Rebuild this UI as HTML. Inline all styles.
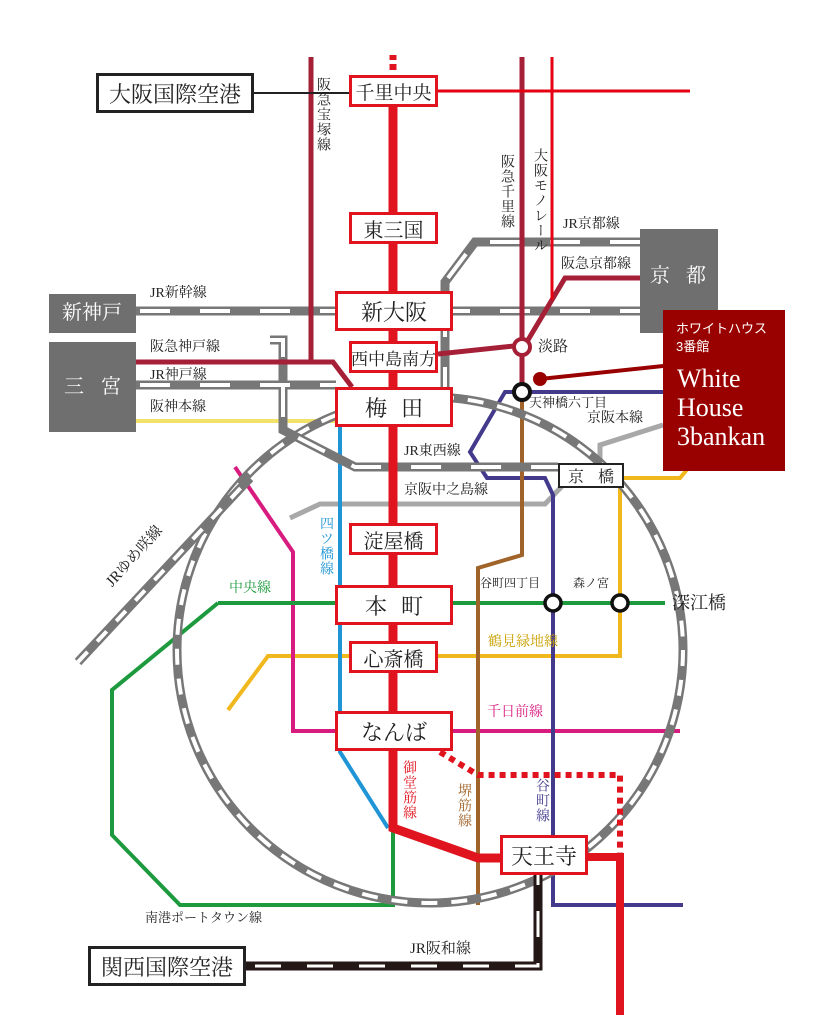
<!DOCTYPE html>
<html><head><meta charset="utf-8"><style>
body{margin:0;background:#fff}
#w{position:relative;width:829px;height:1018px;overflow:hidden;font-family:"Liberation Serif","Noto Serif CJK JP","Noto Serif CJK SC",serif;color:#222}
.t{position:absolute;white-space:nowrap;line-height:1}
.v{position:absolute;writing-mode:vertical-rl;line-height:1;font-size:14px;letter-spacing:1px;white-space:nowrap}
.b{position:absolute;box-sizing:border-box;background:#fff;border:3px solid #e0141e;display:flex;align-items:center;justify-content:center;white-space:nowrap}
.k{border:3px solid #222}
.g{position:absolute;background:#6f6f6f;color:#fff;white-space:nowrap}
.g span{position:absolute;line-height:1}
</style></head><body><div id="w">
<svg width="829" height="1018" style="position:absolute;left:0;top:0">
<g fill="none" stroke-linejoin="miter">
<polyline points="290,518 320,504 545,504 568,480" stroke="#a8a8a8" stroke-width="5"/>
<polyline points="600,470 600,445 663,425" stroke="#a8a8a8" stroke-width="5"/>
<polyline points="228,710 268,656 620,656 620,478 680,478 690,466" stroke="#f0b81c" stroke-width="4"/>
<line x1="136" y1="421" x2="336" y2="421" stroke="#f3e26a" stroke-width="4"/>
<polyline points="235,467 293,552 293,731 680,731" stroke="#d81b7f" stroke-width="4"/>
<polyline points="340,427 340,752 388,828" stroke="#1f95d6" stroke-width="4"/>
<polyline points="218,603 665,603" stroke="#1e9a3e" stroke-width="4"/>
<polyline points="218,603 112,690 112,835 180,905 393,905 393,828" stroke="#1e9a3e" stroke-width="4"/>
<polyline points="663,392 505,392 470,452 487,478 545,478 553,495 553,905 683,905" stroke="#433a8c" stroke-width="4"/>
<polyline points="522,392 522,555 478,568 478,905" stroke="#a0642a" stroke-width="4"/>
<circle cx="430" cy="650" r="253" stroke="#777" stroke-width="9"/>
<circle cx="430" cy="650" r="253" stroke="#fff" stroke-width="4" stroke-dasharray="16 14"/>
<line x1="78" y1="662" x2="250" y2="478" stroke="#777" stroke-width="9"/>
<line x1="78" y1="662" x2="250" y2="478" stroke="#fff" stroke-width="4" stroke-dasharray="14 14"/>
<g stroke="#777" stroke-width="9">
<polyline points="136,311 640,311"/>
<polyline points="136,385 336,385"/>
<polyline points="640,242 475,242 445,282 445,395"/>
<polyline points="270,340 283,340 283,430 355,467 558,467"/>
</g>
<g stroke="#fff" stroke-width="4" stroke-dasharray="30 30">
<polyline points="140,311 640,311"/>
<polyline points="140,385 336,385"/>
<polyline points="640,242 475,242 445,282 445,395"/>
<polyline points="270,340 283,340 283,430 355,467 558,467"/>
</g>
<g stroke="#a51f36" stroke-width="5">
<polyline points="311,57 311,362"/>
<polyline points="136,362 333,362 352,387"/>
<polyline points="438,354 514,346"/>
<polyline points="522,57 522,392"/>
<polyline points="528,340 565,278 640,278"/>
</g>
<line x1="552" y1="57" x2="552" y2="300" stroke="#e60012" stroke-width="3"/>
<line x1="438" y1="91" x2="690" y2="91" stroke="#e60012" stroke-width="3"/>
<line x1="254" y1="93" x2="349" y2="93" stroke="#222" stroke-width="2"/>
<line x1="393" y1="55" x2="393" y2="60" stroke="#e0141e" stroke-width="7"/>
<line x1="393" y1="64" x2="393" y2="70" stroke="#e0141e" stroke-width="7"/>
<polyline points="393,75 393,828 478,858 500,858" stroke="#e0141e" stroke-width="9"/>
<polyline points="440,752 478,775 620,775 620,855" stroke="#e0141e" stroke-width="6" stroke-dasharray="6 5"/>
<polyline points="588,857 620,857 620,1015" stroke="#e0141e" stroke-width="8"/>
<polyline points="245,966 538,966 538,875" stroke="#231815" stroke-width="9"/>
<polyline points="255,966 538,966 538,875" stroke="#fff" stroke-width="3" stroke-dasharray="26 26"/>
<polygon points="540,377 663,364 663,368 540,381" fill="#990000"/>
<circle cx="540" cy="379" r="7" fill="#990000"/>
<circle cx="522" cy="347" r="8" fill="#fff" stroke="#a51f36" stroke-width="4"/>
<circle cx="522" cy="392" r="8" fill="#fff" stroke="#111" stroke-width="4"/>
<circle cx="553" cy="603" r="8" fill="#fff" stroke="#111" stroke-width="3.5"/>
<circle cx="620" cy="603" r="8" fill="#fff" stroke="#111" stroke-width="3.5"/>
</g>
</svg>
<div class="b k" style="left:96px;top:73px;width:158px;height:40px;font-size:22px">大阪国際空港</div>
<div class="b k" style="left:88px;top:946px;width:158px;height:40px;font-size:22px">関西国際空港</div>
<div class="b k" style="left:558px;top:463px;width:66px;height:25px;font-size:16px;border-width:2px;justify-content:space-between;padding:0 8px">京<span>橋</span></div>
<div class="g" style="left:49px;top:294px;width:87px;height:39px"><span style="left:13px;top:9px;font-size:20px">新神戸</span></div>
<div class="g" style="left:49px;top:342px;width:87px;height:90px"><span style="left:15px;top:35px;font-size:20px">三</span><span style="left:52px;top:35px;font-size:20px">宮</span></div>
<div class="g" style="left:640px;top:229px;width:78px;height:104px"><span style="left:10px;top:37px;font-size:20px">京</span><span style="left:46px;top:37px;font-size:20px">都</span></div>
<div style="position:absolute;left:663px;top:310px;width:122px;height:161px;background:#990000;color:#fff">
<div class="t" style="left:13px;top:12px;font-size:13px;font-family:'Liberation Sans','Noto Sans CJK JP',sans-serif">ホワイトハウス</div>
<div class="t" style="left:13px;top:30px;font-size:13px;font-family:'Liberation Sans','Noto Sans CJK JP',sans-serif">3番館</div>
<div class="t" style="left:14px;top:56px;font-size:26px">White</div>
<div class="t" style="left:14px;top:85px;font-size:26px">House</div>
<div class="t" style="left:14px;top:114px;font-size:26px">3bankan</div>
</div>
<div class="b" style="left:349px;top:75px;width:89px;height:32px;font-size:19px">千里中央</div>
<div class="b" style="left:349px;top:212px;width:89px;height:32px;font-size:20px">東三国</div>
<div class="b" style="left:335px;top:291px;width:118px;height:40px;font-size:22px">新大阪</div>
<div class="b" style="left:349px;top:341px;width:89px;height:32px;font-size:17px">西中島南方</div>
<div class="b" style="left:335px;top:387px;width:118px;height:40px;font-size:22px;letter-spacing:14px;padding-left:14px">梅田</div>
<div class="b" style="left:349px;top:523px;width:89px;height:32px;font-size:20px">淀屋橋</div>
<div class="b" style="left:335px;top:585px;width:118px;height:40px;font-size:22px;letter-spacing:14px;padding-left:14px">本町</div>
<div class="b" style="left:349px;top:641px;width:89px;height:32px;font-size:20px">心斎橋</div>
<div class="b" style="left:335px;top:711px;width:118px;height:40px;font-size:22px">なんば</div>
<div class="b" style="left:500px;top:835px;width:88px;height:40px;font-size:22px">天王寺</div>
<div class="v" style="left:315px;top:77px">阪急宝塚線</div>
<div class="v" style="left:499px;top:154px">阪急千里線</div>
<div class="v" style="left:532px;top:148px">大阪モノレール</div>
<div class="v" style="left:318px;top:516px;color:#1f95d6">四ツ橋線</div>
<div class="v" style="left:401px;top:760px;color:#e0141e">御堂筋線</div>
<div class="v" style="left:456px;top:783px;color:#a0642a">堺筋線</div>
<div class="v" style="left:534px;top:778px;color:#433a8c">谷町線</div>
<div class="t" style="left:150px;top:287px;font-size:14px">JR新幹線</div>
<div class="t" style="left:150px;top:341px;font-size:14px">阪急神戸線</div>
<div class="t" style="left:150px;top:369px;font-size:14px">JR神戸線</div>
<div class="t" style="left:150px;top:401px;font-size:14px">阪神本線</div>
<div class="t" style="left:563px;top:218px;font-size:14px">JR京都線</div>
<div class="t" style="left:561px;top:258px;font-size:14px">阪急京都線</div>
<div class="t" style="left:538px;top:340px;font-size:15px">淡路</div>
<div class="t" style="left:529px;top:396px;font-size:13px">天神橋六丁目</div>
<div class="t" style="left:587px;top:412px;font-size:14px">京阪本線</div>
<div class="t" style="left:404px;top:445px;font-size:14px">JR東西線</div>
<div class="t" style="left:404px;top:484px;font-size:14px">京阪中之島線</div>
<div class="t" style="left:229px;top:582px;font-size:14px;color:#1e9a3e">中央線</div>
<div class="t" style="left:480px;top:577px;font-size:12px">谷町四丁目</div>
<div class="t" style="left:573px;top:577px;font-size:12px">森ノ宮</div>
<div class="t" style="left:672px;top:594px;font-size:18px">深江橋</div>
<div class="t" style="left:488px;top:636px;font-size:14px;color:#c9a000">鶴見緑地線</div>
<div class="t" style="left:487px;top:706px;font-size:14px;color:#d81b7f">千日前線</div>
<div class="t" style="left:145px;top:911px;font-size:13px">南港ポートタウン線</div>
<div class="t" style="left:410px;top:942px;font-size:15px">JR阪和線</div>
<div class="t" style="left:104px;top:580px;font-size:15px;transform:rotate(-48deg);transform-origin:left top">JRゆめ咲線</div>
</div></body></html>
